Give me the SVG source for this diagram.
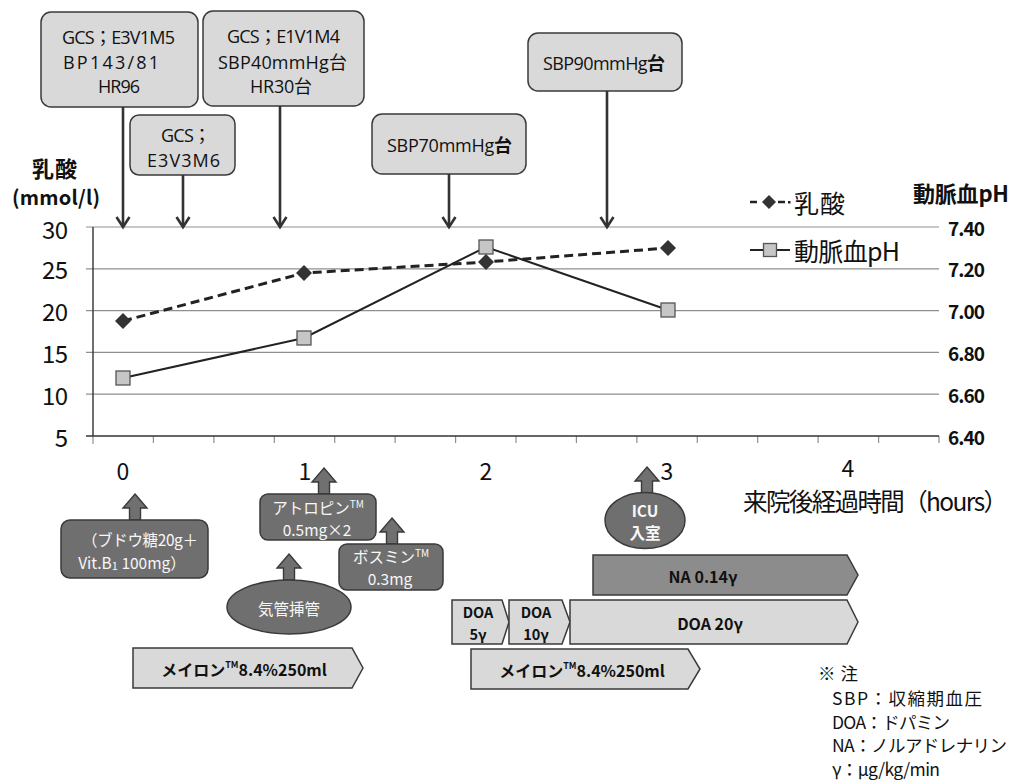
<svg xmlns="http://www.w3.org/2000/svg" width="1011" height="780" viewBox="0 0 1011 780">
<style>
text{font-family:"Noto Sans CJK JP","Noto Sans",sans-serif;fill:#111;dominant-baseline:central}
.c{text-anchor:middle}
.b{font-weight:bold}
.callout{fill:#d9d9d9;stroke:#3a3a3a;stroke-width:1.5}
.ct{font-family:"Open Sans","Noto Sans CJK JP",sans-serif;font-size:18px;text-anchor:middle}
.grid{stroke:#8f8f8f;stroke-width:1.2}
.axis{stroke:#333;stroke-width:1.4}
.tick{stroke:#8f8f8f;stroke-width:1.2}
.yl{font-size:24px;text-anchor:end}
.yr{font-size:19px;font-weight:bold}
.xl{font-size:23px;text-anchor:middle}
.down{stroke:#333;stroke-width:2.6;fill:none;marker-end:url(#vh)}
.up{fill:#707070;stroke:#3a3a3a;stroke-width:1.4}
.dbox{fill:#6f6f6f;stroke:#3a3a3a;stroke-width:1.5}
.wt{fill:#f7f7f7;font-size:15.5px;text-anchor:middle}
.pl{fill:#d9d9d9;stroke:#3a3a3a;stroke-width:1.5}
.pd{fill:#8c8c8c;stroke:#3a3a3a;stroke-width:1.5}
.pt{font-size:16px;font-weight:bold;text-anchor:middle}
.ps{font-size:14.5px;font-weight:bold;text-anchor:middle}
.sq{fill:#c6c6c6;stroke:#555;stroke-width:1.3}
.dm{fill:#333}
.note{font-size:17.5px}
</style>
<defs>
<marker id="vh" markerUnits="userSpaceOnUse" markerWidth="14" markerHeight="16" refX="11" refY="7" orient="auto" overflow="visible"><path d="M1,0.5 L11,7 L1,13.5" fill="none" stroke="#333" stroke-width="2.6"/></marker>
<path id="upa" d="M0,0 L12,14 L5.5,14 L5.5,26 L-5.5,26 L-5.5,14 L-12,14 Z"/>
</defs>
<rect width="1011" height="780" fill="#fff"/>

<g id="chart">
<g class="grid">
<line x1="86" y1="227" x2="939" y2="227"/>
<line x1="86" y1="268.8" x2="939" y2="268.8"/>
<line x1="86" y1="310.6" x2="939" y2="310.6"/>
<line x1="86" y1="352.4" x2="939" y2="352.4"/>
<line x1="86" y1="394.2" x2="939" y2="394.2"/>
</g>
<g class="tick">
<line x1="93" y1="436" x2="93" y2="444"/><line x1="153.4" y1="436" x2="153.4" y2="443"/><line x1="213.9" y1="436" x2="213.9" y2="443"/><line x1="274.3" y1="436" x2="274.3" y2="443"/><line x1="334.7" y1="436" x2="334.7" y2="443"/><line x1="395.1" y1="436" x2="395.1" y2="443"/><line x1="455.6" y1="436" x2="455.6" y2="443"/><line x1="516" y1="436" x2="516" y2="443"/><line x1="576.4" y1="436" x2="576.4" y2="443"/><line x1="636.9" y1="436" x2="636.9" y2="443"/><line x1="697.3" y1="436" x2="697.3" y2="443"/><line x1="757.7" y1="436" x2="757.7" y2="443"/><line x1="818.1" y1="436" x2="818.1" y2="443"/><line x1="878.6" y1="436" x2="878.6" y2="443"/><line x1="939" y1="436" x2="939" y2="443"/>
</g>
<line class="axis" x1="86" y1="436" x2="939" y2="436"/>
<line class="axis" x1="93" y1="227" x2="93" y2="436"/>
<text class="yl" x="68" y="228" textLength="26">30</text>
<text class="yl" x="68" y="268.8" textLength="26">25</text>
<text class="yl" x="68" y="310.6" textLength="26">20</text>
<text class="yl" x="68" y="352.4" textLength="26">15</text>
<text class="yl" x="68" y="394.2" textLength="26">10</text>
<text class="yl" x="68" y="436">5</text>
<text class="yr" x="948" y="227" textLength="37">7.40</text>
<text class="yr" x="948" y="268.8" textLength="37">7.20</text>
<text class="yr" x="948" y="310.6" textLength="37">7.00</text>
<text class="yr" x="948" y="352.4" textLength="37">6.80</text>
<text class="yr" x="948" y="394.2" textLength="37">6.60</text>
<text class="yr" x="948" y="436" textLength="37">6.40</text>
<text class="xl" x="123" y="470">0</text>
<text class="xl" x="305" y="470">1</text>
<text class="xl" x="486" y="470">2</text>
<text class="xl" x="667" y="470">3</text>
<text class="xl" x="848" y="467">4</text>
<text class="c" x="875.5" y="500" font-size="24.5" textLength="265">来院後経過時間（hours）</text>
<text class="c b" x="54.5" y="167" font-size="22" textLength="45">乳酸</text>
<text class="c b" x="56" y="196" font-size="20" textLength="88">(mmol/l)</text>
<text class="c b" x="961" y="192" font-size="22" textLength="96">動脈血pH</text>
<g id="series-ph">
<polyline points="123,378 304,338 486,247 668,310" fill="none" stroke="#222" stroke-width="2"/>
</g>
<g id="series-lactate">
<polyline points="123,321 304,273 486,262 668,248" fill="none" stroke="#222" stroke-width="3" stroke-dasharray="9 5"/>
</g>
<g id="markers">
<rect class="sq" x="116" y="371" width="14" height="14"/>
<rect class="sq" x="297" y="331" width="14" height="14"/>
<rect class="sq" x="479" y="240" width="14" height="14"/>
<rect class="sq" x="661" y="303" width="14" height="14"/>
<polygon class="dm" points="123,313 131,321 123,329 115,321"/>
<polygon class="dm" points="304,265 312,273 304,281 296,273"/>
<polygon class="dm" points="486,254 494,262 486,270 478,262"/>
<polygon class="dm" points="668,240 676,248 668,256 660,248"/>
</g>
</g>

<g id="legend">
<line x1="750" y1="202" x2="757" y2="202" stroke="#222" stroke-width="2.5"/>
<polygon class="dm" points="769,195 776,202 769,209 762,202"/>
<line x1="778" y1="202" x2="785" y2="202" stroke="#222" stroke-width="2.5"/>
<rect x="788" y="201" width="2.5" height="2.5" fill="#222"/>
<text x="794" y="202" font-size="25" textLength="51">乳酸</text>
<line x1="750" y1="250" x2="790" y2="250" stroke="#222" stroke-width="1.8"/>
<rect class="sq" x="763.5" y="243.5" width="13" height="13"/>
<text x="794" y="250" font-size="25" textLength="106">動脈血pH</text>
</g>

<g id="callout-gcs1">
<rect class="callout" x="41" y="12" width="157" height="95" rx="10"/>
<text class="ct" x="118.5" y="37" textLength="113">GCS；E3V1M5</text>
<text class="ct" x="111" y="62" textLength="96">BP143/81</text>
<text class="ct" x="119" y="86" textLength="42">HR96</text>
</g>
<g id="callout-gcs2">
<rect class="callout" x="130" y="115" width="105" height="60" rx="9"/>
<text class="ct" x="186" y="135" textLength="50">GCS；</text>
<text class="ct" x="183.5" y="160" textLength="73">E3V3M6</text>
</g>
<g id="callout-gcs3">
<rect class="callout" x="203" y="11" width="161" height="95" rx="10"/>
<text class="ct" x="283.5" y="36" textLength="113">GCS；E1V1M4</text>
<text class="ct" x="282.5" y="62" textLength="129">SBP40mmHg台</text>
<text class="ct" x="281" y="86" textLength="62">HR30台</text>
</g>
<g id="callout-sbp70">
<rect class="callout" x="372" y="114" width="154" height="60" rx="10"/>
<text class="ct" x="449.5" y="145" textLength="125">SBP70mmHg<tspan font-weight="bold">台</tspan></text>
</g>
<g id="callout-sbp90">
<rect class="callout" x="528" y="33" width="154" height="58" rx="10"/>
<text class="ct" x="604" y="63" textLength="122">SBP90mmHg<tspan font-weight="bold">台</tspan></text>
</g>

<g id="connectors">
<line class="down" x1="123" y1="107" x2="123" y2="227"/>
<line class="down" x1="183" y1="175" x2="183" y2="227"/>
<line class="down" x1="280" y1="106" x2="280" y2="227"/>
<line class="down" x1="449" y1="174" x2="449" y2="227"/>
<line class="down" x1="607" y1="91" x2="607" y2="227"/>
<use href="#upa" class="up" x="135" y="494"/>
<use href="#upa" class="up" x="324" y="468"/>
<use href="#upa" class="up" x="392" y="518"/>
<use href="#upa" class="up" x="289" y="554"/>
<use href="#upa" class="up" x="647" y="467"/>
</g>

<g id="node-glucose">
<rect class="dbox" x="61" y="520" width="147" height="58" rx="9"/>
<text class="wt" x="140" y="539" textLength="116">（ブドウ糖20g＋</text>
<text class="wt" x="132" y="562">Vit.B<tspan font-size="11" dy="3">1</tspan><tspan dy="-3"> 100mg）</tspan></text>
</g>
<g id="node-atropine">
<rect class="dbox" x="260" y="494" width="116" height="46" rx="8"/>
<text class="wt" x="318" y="507">アトロピン<tspan font-size="10" dy="-4">TM</tspan></text>
<text class="wt" x="317" y="529">0.5mg×2</text>
</g>
<g id="node-bosmin">
<rect class="dbox" x="339" y="544" width="104" height="46" rx="8"/>
<text class="wt" x="391" y="556">ボスミン<tspan font-size="10" dy="-4">TM</tspan></text>
<text class="wt" x="390" y="578">0.3mg</text>
</g>
<g id="node-intubation">
<ellipse class="dbox" cx="289" cy="607" rx="62" ry="27"/>
<text class="wt" x="289" y="608" font-size="16">気管挿管</text>
</g>
<g id="node-icu">
<ellipse class="dbox" cx="645" cy="520.5" rx="40" ry="28"/>
<text class="wt b" x="645" y="510" font-size="14">ICU</text>
<text class="wt b" x="645" y="532" font-size="14">入室</text>
</g>

<g id="node-meylon1">
<polygon class="pl" points="133,648 352,648 363,668 352,688 133,688"/>
<text class="pt" x="244" y="669">メイロン<tspan font-size="9" dy="-5">TM</tspan><tspan dy="5">8.4%250ml</tspan></text>
</g>
<g id="node-na">
<polygon class="pd" points="593,555 847,555 858,575 847,595 593,595"/>
<text class="pt" x="703" y="576">NA 0.14γ</text>
</g>
<g id="node-doa5">
<polygon class="pl" points="452,600 502,600 509,622 502,644 452,644"/>
<text class="ps" x="478" y="611">DOA</text>
<text class="ps" x="478" y="633">5γ</text>
</g>
<g id="node-doa10">
<polygon class="pl" points="509,600 562,600 570,622 562,644 509,644"/>
<text class="ps" x="536" y="611">DOA</text>
<text class="ps" x="536" y="633">10γ</text>
</g>
<g id="node-doa20">
<polygon class="pl" points="570,600 847,600 858,622 847,644 570,644"/>
<text class="pt" x="710" y="623">DOA 20γ</text>
</g>
<g id="node-meylon2">
<polygon class="pl" points="471,649 688,649 700,669 688,689 471,689"/>
<text class="pt" x="582" y="670">メイロン<tspan font-size="9" dy="-5">TM</tspan><tspan dy="5">8.4%250ml</tspan></text>
</g>

<g id="note">
<text class="note" x="818" y="672" textLength="40">※注</text>
<text class="note" x="832" y="697" textLength="150">SBP：収縮期血圧</text>
<text class="note" x="832" y="721" textLength="118">DOA：ドパミン</text>
<text class="note" x="832" y="744" textLength="175">NA：ノルアドレナリン</text>
<text class="note" x="832" y="768" textLength="108">γ：μg/kg/min</text>
</g>
</svg>
